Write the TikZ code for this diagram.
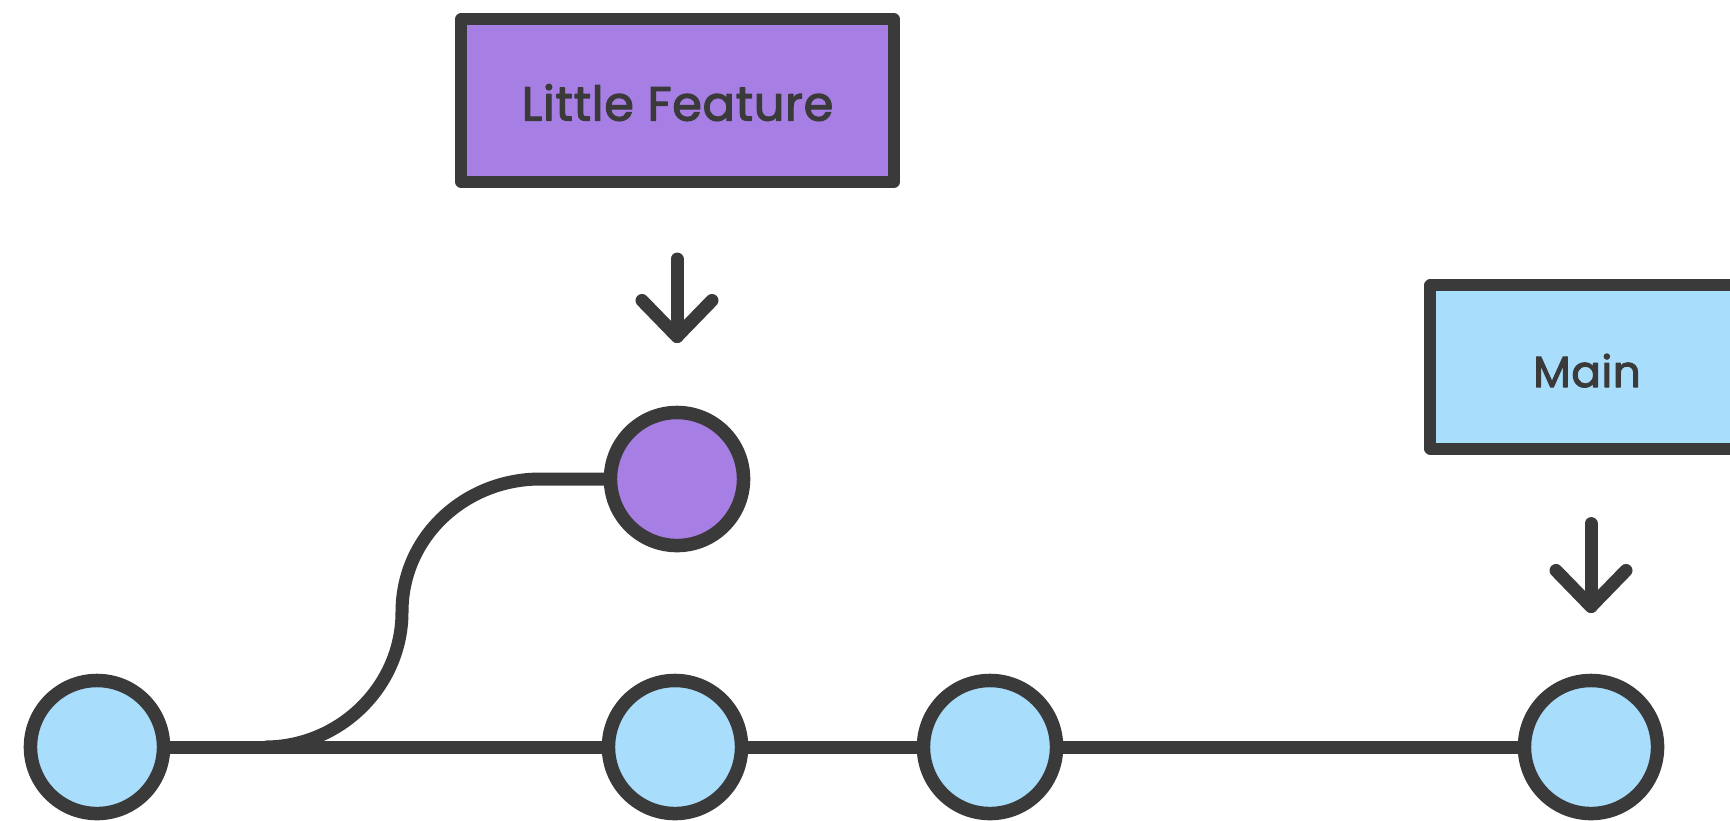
\documentclass[tikz,border=0pt]{standalone}
\usepackage{fontspec}
\setmainfont{Poppins}[LetterSpace=1.5, FakeBold=2.5]
\usetikzlibrary{calc}
\definecolor{ink}{HTML}{3A3A3A}
\definecolor{lilac}{HTML}{A77EE3}
\definecolor{sky}{HTML}{A9DDFC}
\begin{document}
\begin{tikzpicture}[x=0.01cm,y=-0.01cm,
  commit/.style={circle, draw=ink, line width=0.135cm, minimum size=1.33cm,
    inner sep=0pt, outer sep=0pt},
  labelbox/.style={rectangle, draw=ink, line width=0.12cm, line join=round,
    minimum height=1.63cm, inner sep=0pt, outer sep=0pt, text=ink,
    text height=0.4cm, text depth=0pt},
  branch/.style={draw=ink, line width=0.13cm},
  pointer/.style={draw=ink, line width=0.13cm, line cap=round, line join=round}]
\useasboundingbox (0,0) rectangle (1730,820);
\clip (0,0) rectangle (1730,820);

% commits on the main line and the feature commit
\node[commit, fill=sky] (c1) at (97,747) {};
\node[commit, fill=sky] (c2) at (675,747) {};
\node[commit, fill=sky] (c3) at (990,747) {};
\node[commit, fill=sky] (c4) at (1591,747) {};
\node[commit, fill=lilac] (f1) at (677,479) {};

% branch labels
\node[labelbox, fill=lilac, minimum width=4.32cm, font=\fontsize{13.6}{16}\selectfont]
  (lf) at (677.5,100.5) {Little Feature};
\node[labelbox, fill=sky, minimum width=3.13cm, font=\fontsize{12.4}{15}\selectfont]
  (mn) at (1587,367) {Main};

% main line
\draw[branch] (c1) -- (c2);
\draw[branch] (c2) -- (c3);
\draw[branch] (c3) -- (c4);

% feature branch leaving the main line
\coordinate (fork) at (265,747);
\coordinate (rise) at (402,612);
\coordinate (land) at (540,479);
\draw[branch] (fork) .. controls (340,747) and (402,686) .. (rise)
  .. controls (402,536) and (466,479) .. (land) -- (f1);

% pointers from the labels to their commits
\coordinate (lfTip) at ($(f1.north)+(0,-76)$);
\draw[pointer] ($(lf.south -| f1)+(0,77)$) -- (lfTip);
\draw[pointer] ($(lfTip)+(-35,-36)$) -- (lfTip) -- ($(lfTip)+(35,-36)$);

\coordinate (mnTip) at ($(c4.north)+(0,-74)$);
\draw[pointer] ($(mn.south -| c4)+(0,75)$) -- (mnTip);
\draw[pointer] ($(mnTip)+(-35,-36)$) -- (mnTip) -- ($(mnTip)+(35,-36)$);
\end{tikzpicture}
\end{document}
